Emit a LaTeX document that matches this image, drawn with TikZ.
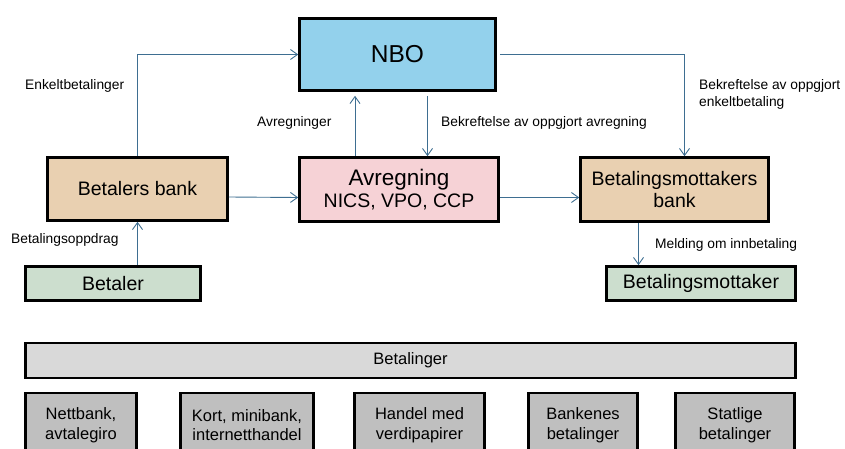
\documentclass[tikz,border=0pt]{standalone}
\usepackage{fontspec}
\setmainfont{Liberation Sans}
\usetikzlibrary{arrows.meta}
\definecolor{nboblue}{RGB}{147,209,236}
\definecolor{banktan}{RGB}{233,208,177}
\definecolor{avrpink}{RGB}{246,210,214}
\definecolor{partgreen}{RGB}{204,222,206}
\definecolor{barlight}{RGB}{217,217,217}
\definecolor{bargray}{RGB}{191,191,191}
\definecolor{flowline}{RGB}{62,110,145}
\tikzset{
  box/.style={draw=black,line width=2.6pt,inner sep=0pt,align=center,
    font=\fontsize{19.5}{22}\selectfont},
  flow/.style={draw=flowline,line width=0.9pt,-{Straight Barb[length=7pt,width=10pt]}},
  lbl/.style={inner sep=0pt,anchor=base west,align=left,
    font=\fontsize{13.8}{17}\selectfont},
  kind/.style={box,fill=bargray,minimum height=64pt,
    font=\fontsize{16.5}{19.5}\selectfont}
}
\begin{document}
\begin{tikzpicture}[x=1pt,y=-1pt]
 \useasboundingbox (0,0) rectangle (845,449);
 % parties and banks
 \node[box,fill=nboblue,minimum width=196pt,minimum height=72pt,
   font=\fontsize{24.5}{28}\selectfont] (nbo) at (397.5,54.5) {NBO};
 \node[box,fill=banktan,minimum width=180pt,minimum height=63pt] (bank1) at (137.5,189) {Betalers bank};
 \node[box,fill=avrpink,minimum width=199pt,minimum height=64pt] (avr) at (399,189.5)
   {{\fontsize{22.5}{24}\selectfont Avregning}\\NICS, VPO, CCP};
 \node[box,fill=banktan,minimum width=188pt,minimum height=64pt] (bank2) at (674.5,189.5) {Betalingsmottakers\\bank};
 \node[box,fill=partgreen,minimum width=175pt,minimum height=34pt] (betaler) at (113,283.5) {Betaler};
 \node[box,fill=partgreen,minimum width=189pt,minimum height=34pt] (mottaker) at (701,283.5) {Betalingsmottaker};
 % flows
 \draw[flow] (bank1.north) |- (nbo.west);
 \draw[flow,shorten >=4pt] ([xshift=-44pt]avr.north) -- ([xshift=-44pt]avr.north |- nbo.south);
 \draw[flow,shorten <=4pt] ([xshift=30pt]nbo.south) -- ([xshift=30pt]nbo.south |- avr.north);
 \draw[flow,shorten <=3pt] (nbo.east) -| ([xshift=10pt]bank2.north);
 \draw[flow] ([yshift=-8pt]bank1.east) -- ([yshift=-8pt]avr.west);
 \draw[flow] ([yshift=-8pt]avr.east) -- ([yshift=-8pt]bank2.west);
 \draw[flow] (betaler.north -| bank1.south) -- (bank1.south);
 \draw[flow] ([xshift=-36pt]bank2.south) -- ([xshift=-36pt]bank2.south |- mottaker.north);
 % labels
 \node[lbl] (l1) at (25,90) {Enkeltbetalinger};
 \node[lbl] (l2) at (257,127) {Avregninger};
 \node[lbl] (l3) at (441,127) {Bekreftelse av oppgjort avregning};
 \node[lbl] (l4) at (699,107) {Bekreftelse av oppgjort\\enkeltbetaling};
 \node[lbl] (l5) at (11,243) {Betalingsoppdrag};
 \node[lbl] (l6) at (655,248) {Melding om innbetaling};
 % payment types
 \node[box,fill=barlight,minimum width=770pt,minimum height=35pt,
   font=\fontsize{16.5}{19}\selectfont] (bet) at (410.5,360.5) {Betalinger};
 \node[kind,minimum width=111pt] (k1) at (81,425) {Nettbank,\\avtalegiro};
 \node[kind,minimum width=133pt] (k2) at (247,425) {Kort, minibank,\\internetthandel};
 \node[kind,minimum width=130pt] (k3) at (419.5,425) {Handel med\\verdipapirer};
 \node[kind,minimum width=109pt] (k4) at (583,425) {Bankenes\\betalinger};
 \node[kind,minimum width=119pt] (k5) at (735,425) {Statlige\\betalinger};
\end{tikzpicture}
\end{document}
